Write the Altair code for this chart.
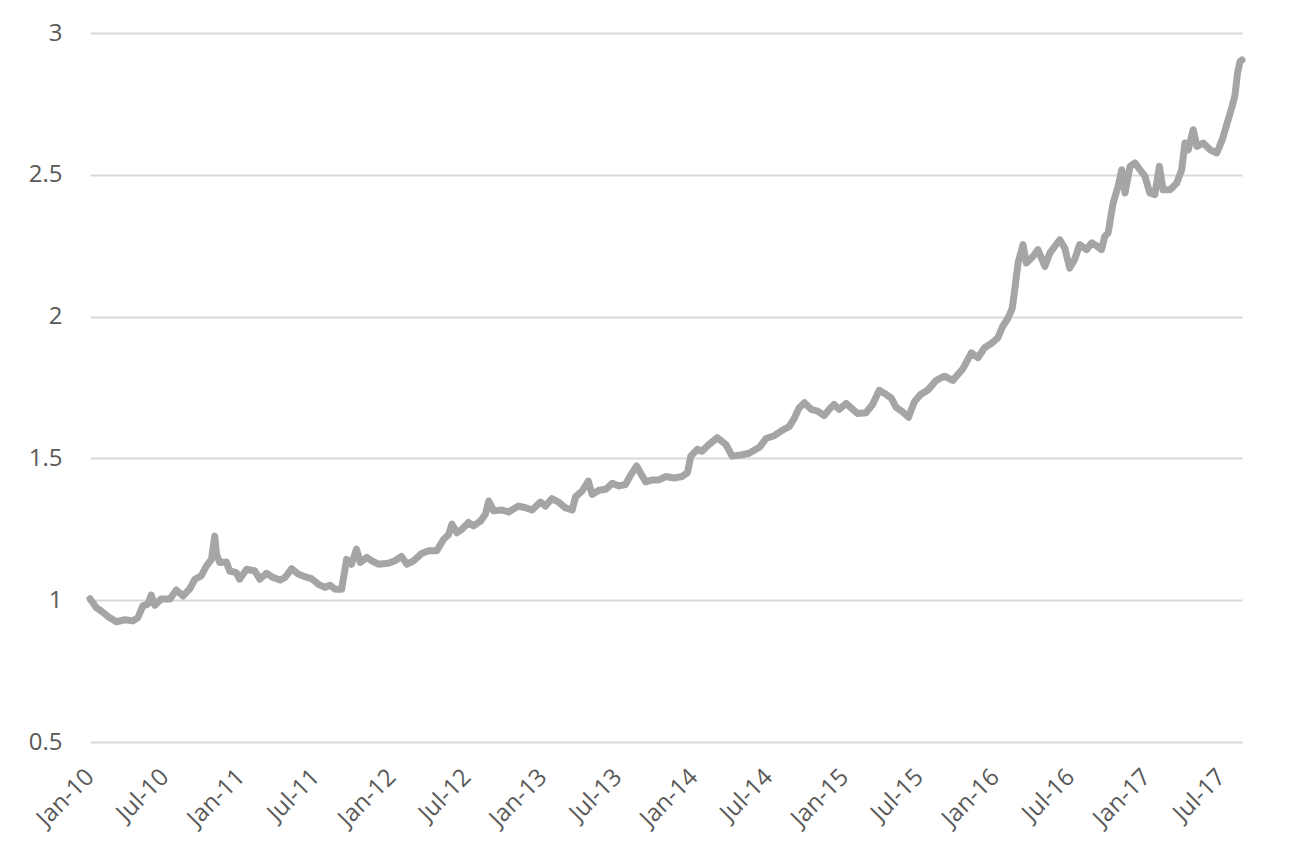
import altair as alt
import pandas as pd

dates = [
    "2010-01-01", "2010-01-16", "2010-01-28", "2010-02-14", "2010-03-06", "2010-03-26",
    "2010-04-15", "2010-04-27", "2010-05-09", "2010-05-21", "2010-05-29", "2010-06-07",
    "2010-06-22", "2010-07-13", "2010-07-29", "2010-08-14", "2010-08-30", "2010-09-12",
    "2010-09-27", "2010-10-10", "2010-10-22", "2010-10-30", "2010-11-03", "2010-11-11",
    "2010-11-27", "2010-12-05", "2010-12-21", "2010-12-29", "2011-01-15", "2011-02-04",
    "2011-02-16", "2011-03-04", "2011-03-20", "2011-04-06", "2011-04-18", "2011-05-04",
    "2011-05-20", "2011-06-05", "2011-06-21", "2011-07-08", "2011-07-24", "2011-08-05",
    "2011-08-17", "2011-09-02", "2011-09-14", "2011-09-26", "2011-10-08", "2011-10-17",
    "2011-11-02", "2011-11-14", "2011-11-30", "2011-12-24", "2012-01-09", "2012-01-25",
    "2012-02-07", "2012-02-23", "2012-03-14", "2012-03-30", "2012-04-19", "2012-05-06",
    "2012-05-18", "2012-05-26", "2012-06-07", "2012-06-19", "2012-07-05", "2012-07-17",
    "2012-08-03", "2012-08-15", "2012-08-23", "2012-09-04", "2012-09-24", "2012-10-10",
    "2012-11-03", "2012-11-20", "2012-12-06", "2012-12-26", "2013-01-07", "2013-01-23",
    "2013-02-08", "2013-02-24", "2013-03-13", "2013-03-21", "2013-04-06", "2013-04-21",
    "2013-04-30", "2013-05-17", "2013-06-02", "2013-06-18", "2013-07-04", "2013-07-20",
    "2013-08-01", "2013-08-16", "2013-08-26", "2013-09-07", "2013-09-23", "2013-10-09",
    "2013-10-25", "2013-11-14", "2013-12-04", "2013-12-17", "2013-12-25", "2014-01-10",
    "2014-01-21", "2014-02-07", "2014-02-27", "2014-03-20", "2014-04-04", "2014-04-26",
    "2014-05-15", "2014-06-09", "2014-06-25", "2014-07-15", "2014-08-04", "2014-08-20",
    "2014-09-01", "2014-09-13", "2014-09-26", "2014-10-12", "2014-10-28", "2014-11-13",
    "2014-11-25", "2014-12-07", "2014-12-19", "2015-01-05", "2015-01-21", "2015-02-02",
    "2015-02-22", "2015-03-10", "2015-03-26", "2015-04-12", "2015-04-24", "2015-05-06",
    "2015-05-21", "2015-06-05", "2015-06-19", "2015-07-04", "2015-07-21", "2015-08-11",
    "2015-08-31", "2015-09-20", "2015-10-14", "2015-11-04", "2015-11-20", "2015-12-06",
    "2015-12-22", "2016-01-07", "2016-01-19", "2016-02-01", "2016-02-11", "2016-02-17",
    "2016-02-25", "2016-03-08", "2016-03-16", "2016-04-01", "2016-04-13", "2016-04-30",
    "2016-05-12", "2016-05-24", "2016-06-05", "2016-06-17", "2016-06-29", "2016-07-11",
    "2016-07-23", "2016-08-09", "2016-08-21", "2016-09-02", "2016-09-14", "2016-09-22",
    "2016-09-30", "2016-10-12", "2016-10-24", "2016-11-02", "2016-11-10", "2016-11-22",
    "2016-12-04", "2016-12-16", "2016-12-28", "2017-01-09", "2017-01-21", "2017-02-01",
    "2017-02-10", "2017-02-27", "2017-03-15", "2017-03-27", "2017-04-04", "2017-04-12",
    "2017-04-24", "2017-05-03", "2017-05-18", "2017-06-04", "2017-06-20", "2017-07-03",
    "2017-07-15", "2017-07-27", "2017-08-03", "2017-08-09", "2017-08-15", "2017-08-20",
]

values = [
    1.005, 0.974, 0.962, 0.942, 0.924, 0.931,
    0.927, 0.939, 0.980, 0.986, 1.018, 0.982,
    1.004, 1.004, 1.036, 1.015, 1.039, 1.074,
    1.086, 1.121, 1.144, 1.226, 1.162, 1.133,
    1.135, 1.103, 1.097, 1.074, 1.109, 1.103,
    1.074, 1.095, 1.080, 1.071, 1.080, 1.111,
    1.092, 1.083, 1.076, 1.056, 1.045, 1.053,
    1.039, 1.039, 1.144, 1.127, 1.180, 1.133,
    1.151, 1.139, 1.127, 1.130, 1.139, 1.154,
    1.127, 1.139, 1.165, 1.174, 1.174, 1.215,
    1.232, 1.268, 1.238, 1.250, 1.274, 1.262,
    1.279, 1.303, 1.350, 1.315, 1.318, 1.311,
    1.332, 1.326, 1.318, 1.346, 1.332, 1.358,
    1.346, 1.326, 1.318, 1.364, 1.385, 1.420,
    1.373, 1.388, 1.391, 1.412, 1.403, 1.408,
    1.440, 1.473, 1.447, 1.417, 1.424, 1.424,
    1.436, 1.431, 1.436, 1.450, 1.508, 1.532,
    1.525, 1.549, 1.573, 1.549, 1.508, 1.512,
    1.518, 1.539, 1.570, 1.580, 1.600, 1.612,
    1.640, 1.678, 1.696, 1.673, 1.667, 1.651,
    1.673, 1.690, 1.673, 1.694, 1.673, 1.658,
    1.661, 1.690, 1.740, 1.725, 1.713, 1.680,
    1.665, 1.645, 1.700, 1.725, 1.740, 1.775,
    1.790, 1.775, 1.815, 1.872, 1.855, 1.890,
    1.905, 1.925, 1.966, 1.995, 2.030, 2.095,
    2.189, 2.254, 2.189, 2.212, 2.236, 2.177,
    2.224, 2.248, 2.271, 2.242, 2.171, 2.201,
    2.254, 2.236, 2.260, 2.250, 2.236, 2.283,
    2.295, 2.400, 2.459, 2.518, 2.436, 2.530,
    2.542, 2.518, 2.495, 2.436, 2.430, 2.530,
    2.447, 2.447, 2.471, 2.518, 2.612, 2.588,
    2.659, 2.600, 2.612, 2.588, 2.577, 2.623,
    2.682, 2.741, 2.780, 2.857, 2.899, 2.905,
]

x_tick_dates = [
    "2010-01-01", "2010-07-01", "2011-01-01", "2011-07-01", "2012-01-01", "2012-07-01",
    "2013-01-01", "2013-07-01", "2014-01-01", "2014-07-01", "2015-01-01", "2015-07-01",
    "2016-01-01", "2016-07-01", "2017-01-01", "2017-07-01",
]
y_ticks = [0.5, 1, 1.5, 2, 2.5, 3]

df = pd.DataFrame({"date": pd.to_datetime(dates), "value": values})

x_tick_values = [
    alt.DateTime(year=int(d[:4]), month=int(d[5:7]), date=int(d[8:10]))
    for d in x_tick_dates
]

FONT = "Open Sans"
TEXT = "#595959"

chart = (
    alt.Chart(df)
    .mark_line(color="#A5A5A5", strokeWidth=7, strokeJoin="round", strokeCap="round")
    .encode(
        x=alt.X(
            "date:T",
            scale=alt.Scale(nice=False),
            axis=alt.Axis(
                values=x_tick_values,
                format="%b-%y",
                labelAngle=-45,
                labelAlign="right",
                labelBaseline="middle",
                labelPadding=31,
                labelOverlap=False,
                labelFlush=False,
                ticks=False,
                domain=False,
                grid=False,
                title=None,
                labelFontSize=24,
                labelColor=TEXT,
                labelFont=FONT,
            ),
        ),
        y=alt.Y(
            "value:Q",
            scale=alt.Scale(domain=[0.5, 3], nice=False, zero=False),
            axis=alt.Axis(
                values=y_ticks,
                format="~g",
                ticks=False,
                domain=False,
                grid=True,
                gridColor="#D9D9D9",
                gridWidth=2,
                labelPadding=28,
                labelFlush=False,
                labelOverlap=False,
                title=None,
                labelFontSize=24,
                labelColor=TEXT,
                labelFont=FONT,
            ),
        ),
    )
    .properties(
        width=1152,
        height=709,
        autosize=alt.AutoSizeParams(type="none"),
        padding={"left": 82, "top": 25, "right": 30, "bottom": 100},
    )
    .configure_view(stroke=None)
)

chart.save("out.html", embed_options={"renderer": "svg", "actions": False})
